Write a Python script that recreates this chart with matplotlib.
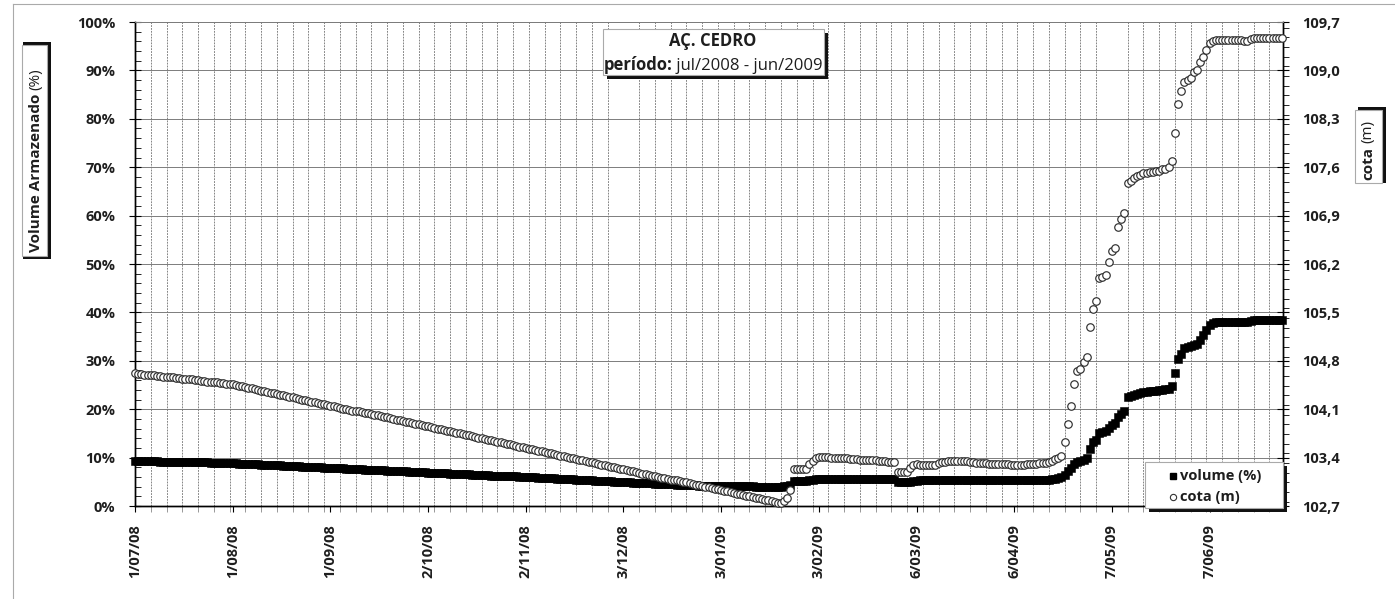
import matplotlib
matplotlib.use("Agg")
import matplotlib.pyplot as plt
import matplotlib.dates as mdates
from matplotlib.patches import Rectangle
from matplotlib.lines import Line2D
from matplotlib.ticker import FixedLocator, MultipleLocator, FuncFormatter
import pandas as pd

plt.rcParams['font.family'] = ['Open Sans', 'DejaVu Sans']

# daily readings, 1 Jul 2008 -> 30 Jun 2009
start = '2008-07-01'

# volume armazenado (%)
volume = (
    [9.2] * 8 + [9.1] * 8 + [9.0] * 8 + [8.9] * 7
    + [8.8, 8.8, 8.7, 8.7, 8.7, 8.7, 8.6, 8.6, 8.6, 8.5, 8.5, 8.5, 8.4, 8.4, 8.4, 8.4, 8.3, 8.3,
       8.3, 8.2, 8.2, 8.2, 8.1, 8.1, 8.1, 8.0, 8.0, 8.0, 8.0, 7.9, 7.9, 7.9, 7.8, 7.8, 7.8]
    + [7.8, 7.7, 7.7, 7.7, 7.6, 7.6, 7.6, 7.5, 7.5, 7.5, 7.5, 7.4, 7.4, 7.4, 7.3, 7.3, 7.3, 7.2, 7.2,
       7.2, 7.2, 7.1, 7.1, 7.1, 7.0, 7.0, 7.0, 6.9, 6.9, 6.9, 6.9, 6.8, 6.8, 6.8, 6.7, 6.7, 6.7, 6.7]
    + [6.6, 6.6, 6.6, 6.5, 6.5, 6.5, 6.4, 6.4, 6.4, 6.3, 6.3, 6.3, 6.2, 6.2, 6.2, 6.1, 6.1, 6.1,
       6.0, 6.0, 6.0, 5.9, 5.9, 5.9, 5.8, 5.8, 5.8, 5.7, 5.7, 5.7, 5.6, 5.6, 5.6, 5.5, 5.5, 5.5,
       5.4, 5.4, 5.4, 5.3, 5.3, 5.3, 5.2, 5.2, 5.2, 5.1, 5.1, 5.1, 5.0, 5.0]
    + [5.0, 4.9, 4.9, 4.9, 4.8, 4.8, 4.8, 4.8, 4.7, 4.7, 4.7, 4.6, 4.6, 4.6, 4.6, 4.5, 4.5, 4.5,
       4.4, 4.4, 4.4, 4.4, 4.3, 4.3, 4.3]
    + [4.2] * 9 + [4.1] * 9 + [4.0] * 9
    + [4.1, 4.2, 4.4] + [5.2] * 5 + [5.3, 5.4] + [5.6] * 10 + [5.5] * 16
    + [4.9] * 4 + [5.0, 5.1, 5.2] + [5.3] * 6 + [5.4] * 12 + [5.3] * 23
    + [5.4, 5.5, 5.6, 5.8, 6.0]
    + [6.4, 7.2, 7.9, 8.6, 9.0, 9.4, 9.6, 9.9, 11.8, 13.2, 13.7, 15.0, 15.2, 15.4, 16.2, 16.8,
       17.2, 18.4, 19.0, 19.6, 22.5, 22.8, 23.0, 23.2, 23.4, 23.5, 23.6, 23.7, 23.7, 23.8, 23.9,
       24.0, 24.1, 24.2, 24.8, 27.5, 30.4, 31.5, 32.6, 32.9, 33.0, 33.2, 33.5, 34.3, 35.3, 36.3,
       37.4, 37.8, 38.0]
    + [38.0] * 10 + [38.3] + [38.4] * 10
)

# cota (m)
cota = (
    [104.62, 104.61, 104.61, 104.60, 104.60, 104.59, 104.59, 104.58, 104.58, 104.57,
     104.57, 104.56, 104.56, 104.55, 104.55, 104.54, 104.54, 104.53, 104.53, 104.52,
     104.52, 104.51, 104.51, 104.50, 104.50, 104.49, 104.49, 104.48, 104.48, 104.47, 104.47]
    + [104.46, 104.45, 104.44, 104.43, 104.42, 104.41, 104.40, 104.39, 104.38, 104.37,
       104.36, 104.35, 104.34, 104.33, 104.32, 104.31, 104.30, 104.29, 104.28, 104.27,
       104.26, 104.25, 104.24, 104.23, 104.22, 104.21, 104.20, 104.19, 104.18, 104.17,
       104.16, 104.15, 104.14, 104.13, 104.12, 104.11, 104.10, 104.09, 104.08, 104.07,
       104.07, 104.06, 104.05, 104.04, 104.03, 104.02, 104.01, 104.00, 103.99, 103.98,
       103.97, 103.96, 103.95, 103.94, 103.93, 103.92, 103.91, 103.90, 103.89, 103.88,
       103.87, 103.86, 103.85, 103.84, 103.83, 103.82, 103.81, 103.80, 103.79, 103.78,
       103.77, 103.76, 103.75, 103.74, 103.73, 103.72, 103.71, 103.70, 103.69, 103.68,
       103.67, 103.66, 103.65, 103.64, 103.63, 103.62, 103.61, 103.60, 103.59, 103.58,
       103.57, 103.56, 103.55, 103.54, 103.53, 103.52, 103.51, 103.50, 103.49, 103.48,
       103.47, 103.46, 103.45, 103.44, 103.43, 103.42, 103.41, 103.40, 103.39, 103.38,
       103.37, 103.36, 103.35, 103.34, 103.33, 103.32, 103.31, 103.30, 103.29, 103.28,
       103.27, 103.26, 103.25, 103.24, 103.23, 103.22, 103.21, 103.20, 103.19, 103.18,
       103.17, 103.16, 103.15, 103.14, 103.13, 103.12, 103.11, 103.10, 103.09, 103.08,
       103.08, 103.07, 103.06, 103.05, 103.04, 103.03, 103.02, 103.01, 103.00, 102.99,
       102.98, 102.97, 102.96, 102.95, 102.94, 102.93, 102.92, 102.91, 102.90, 102.89,
       102.88, 102.87, 102.86, 102.85, 102.84, 102.83, 102.82, 102.81, 102.80, 102.79,
       102.78, 102.77, 102.76, 102.75, 102.74]
    + [102.77, 102.82, 102.93] + [103.23] * 5 + [103.31, 103.35]
    + [103.40, 103.41, 103.41, 103.41, 103.41, 103.40, 103.40, 103.40]
    + [103.39, 103.39, 103.39, 103.38, 103.38, 103.38, 103.37, 103.37, 103.37,
       103.36, 103.36, 103.36, 103.35, 103.35, 103.35, 103.34, 103.34, 103.34]
    + [103.19] * 4 + [103.25, 103.29, 103.31] + [103.30] * 6
    + [103.32, 103.34, 103.34, 103.35] + [103.35] * 6 + [103.34, 103.34]
    + [103.32] * 4 + [103.31] * 7 + [103.29] * 5 + [103.31] * 4 + [103.32] * 3
    + [103.34, 103.35, 103.38, 103.40, 103.42]
    + [103.63, 103.89, 104.15, 104.46, 104.65, 104.68, 104.78, 104.85, 105.29, 105.55,
       105.66, 106.00, 106.01, 106.04, 106.23, 106.39, 106.43, 106.74, 106.85, 106.94,
       107.37, 107.40, 107.44, 107.47, 107.49, 107.51, 107.52, 107.53, 107.53, 107.54,
       107.55, 107.57, 107.58, 107.60, 107.69, 108.09, 108.51, 108.70, 108.83, 108.86,
       108.89, 108.98, 109.01, 109.12, 109.19, 109.30, 109.40, 109.43, 109.44]
    + [109.44] * 8 + [109.43, 109.42] + [109.46] + [109.47] * 10
)

dates = pd.date_range(start, periods=len(cota), freq='D')
major_dates = pd.date_range(start, periods=12, freq='31D')
minor_dates = pd.date_range(start, '2009-06-30', freq='5D')
pct_ticks = list(range(0, 101, 10))
cota_ticks = [102.7, 103.4, 104.1, 104.8, 105.5, 106.2, 106.9, 107.6, 108.3, 109.0, 109.7]

W, H = 1395, 599
TXT = '#1e1e1e'
fig = plt.figure(figsize=(W / 100, H / 100), dpi=100)
ax = fig.add_axes([135 / W, 1 - 506 / H, (1283 - 135) / W, (506 - 22) / H])
ax2 = ax.twinx()


def fx(x):
    return x / W


def fy(y):
    return 1 - y / H


ax.plot(dates, volume, ls='none', marker='s', ms=5.6, mfc='black', mec='black', mew=0.4,
        clip_on=False, zorder=3)
ax2.plot(dates, cota, ls='none', marker='o', ms=5.4, mfc='white', mec='#2e2e2e', mew=0.85,
         clip_on=False, zorder=3)

ax.set_xlim(dates[0], dates[0] + pd.Timedelta(days=364.3))
ax.set_ylim(0, 100)
ax2.set_ylim(102.7, 109.7)

ax.xaxis.set_major_locator(FixedLocator(mdates.date2num(major_dates)))
ax.xaxis.set_minor_locator(FixedLocator(mdates.date2num(minor_dates)))


def date_fmt(v, pos):
    d = mdates.num2date(v)
    return f"{d.day}/{d.month:02d}/{d.year % 100:02d}"


ax.xaxis.set_major_formatter(FuncFormatter(date_fmt))
ax.yaxis.set_major_locator(FixedLocator(pct_ticks))
ax.yaxis.set_minor_locator(MultipleLocator(2))
ax.yaxis.set_major_formatter(FuncFormatter(lambda v, p: f"{v:.0f}%"))
ax2.yaxis.set_major_locator(FixedLocator(cota_ticks))
ax2.yaxis.set_minor_locator(MultipleLocator(0.14))
ax2.yaxis.set_major_formatter(FuncFormatter(lambda v, p: f"{v:.1f}".replace('.', ',')))

ax.grid(which='minor', axis='x', color='#7c7c7c', lw=0.65, ls=(0, (2, 1.2)))
ax.grid(which='major', axis='y', color='#7c7c7c', lw=0.7)
ax.set_axisbelow(True)

ax.tick_params(axis='x', which='major', direction='out', length=4, width=0.8, pad=9,
               labelrotation=90)
ax.tick_params(axis='x', which='minor', direction='out', length=4, width=0.6, color='#888888')
ax.tick_params(axis='y', which='major', direction='inout', length=8, width=0.8, pad=10)
ax.tick_params(axis='y', which='minor', direction='in', length=4, width=0.6)
ax2.tick_params(axis='y', which='major', direction='inout', length=8, width=0.8, pad=10)
ax2.tick_params(axis='y', which='minor', direction='out', length=4, width=0.6)
for lab in ax.get_xticklabels() + ax.get_yticklabels() + ax2.get_yticklabels():
    lab.set_fontsize(10.5)
    lab.set_fontweight('bold')
    lab.set_color(TXT)

for a in (ax, ax2):
    a.spines['top'].set_color('#7c7c7c')
    a.spines['top'].set_linewidth(0.7)
    for s in ('left', 'right', 'bottom'):
        a.spines[s].set_color('black')
        a.spines[s].set_linewidth(1.0)


def shadow_box(x0, y0, x1, y1, sx0, sy0, sx1, sy1):
    fig.add_artist(Rectangle((fx(sx0), fy(sy1)), fx(sx1 - sx0), (sy1 - sy0) / H,
                             transform=fig.transFigure, facecolor='#111111',
                             edgecolor='none', zorder=6))
    fig.add_artist(Rectangle((fx(x0), fy(y1)), fx(x1 - x0), (y1 - y0) / H,
                             transform=fig.transFigure, facecolor='white',
                             edgecolor='#aaaaaa', lw=0.8, zorder=7))


# outer frame
fig.add_artist(Line2D([fx(13), fx(13)], [fy(4), fy(599)], color='#aaaaaa', lw=0.8))
fig.add_artist(Line2D([fx(13), 1], [fy(4), fy(4)], color='#aaaaaa', lw=0.8))

# title box
shadow_box(603, 29, 824, 75, 607, 33, 828, 79)
fig.text(fx(713), fy(41.5), 'AÇ. CEDRO', ha='center', va='center', fontsize=12,
         fontweight='bold', color=TXT, zorder=8)
t1 = fig.text(fx(606), fy(70), 'período:', ha='left', va='baseline', fontsize=12,
              fontweight='bold', color=TXT, zorder=8)
t2 = fig.text(fx(680), fy(70), ' jul/2008 - jun/2009', ha='left', va='baseline',
              fontsize=12, color=TXT, zorder=8)
fig.canvas.draw()
r = fig.canvas.get_renderer()
w1 = t1.get_window_extent(r).width
w2 = t2.get_window_extent(r).width
left = 713 - (w1 + w2) / 2
t1.set_x(fx(left))
t2.set_x(fx(left + w1))

# left axis title
shadow_box(22, 45, 47, 256, 23, 42, 51, 259)
ty = fig.text(fx(36), fy(252), 'Volume Armazenado', rotation=90, ha='center', va='bottom',
              fontsize=11, fontweight='bold', color=TXT, zorder=8)
fig.canvas.draw()
bb = ty.get_window_extent(r)
fig.text(fx(36), (bb.y1 + 4) / H, '(%)', rotation=90, ha='center', va='bottom',
         fontsize=11, color=TXT, zorder=8)

# right axis title
shadow_box(1355, 110, 1382, 183, 1358, 107, 1386, 183)
tc = fig.text(fx(1368), fy(180), 'cota', rotation=90, ha='center', va='bottom',
              fontsize=11, fontweight='bold', color=TXT, zorder=8)
fig.canvas.draw()
bb = tc.get_window_extent(r)
fig.text(fx(1368), (bb.y1 + 4) / H, '(m)', rotation=90, ha='center', va='bottom',
         fontsize=11, color=TXT, zorder=8)

# legend
shadow_box(1145, 462, 1283, 508, 1149, 466, 1287, 512)
fig.add_artist(Line2D([fx(1173)], [fy(476)], marker='s', ms=4.5, mfc='black', mec='black',
                      ls='none', zorder=8))
fig.add_artist(Line2D([fx(1173)], [fy(497)], marker='o', ms=4.5, mfc='white',
                      mec='#333333', mew=0.8, ls='none', zorder=8))
fig.text(fx(1180), fy(476), 'volume (%)', ha='left', va='center', fontsize=10.5,
         fontweight='bold', color=TXT, zorder=8)
fig.text(fx(1180), fy(497), 'cota (m)', ha='left', va='center', fontsize=10.5,
         fontweight='bold', color=TXT, zorder=8)

fig.savefig('out.png', dpi=100)
